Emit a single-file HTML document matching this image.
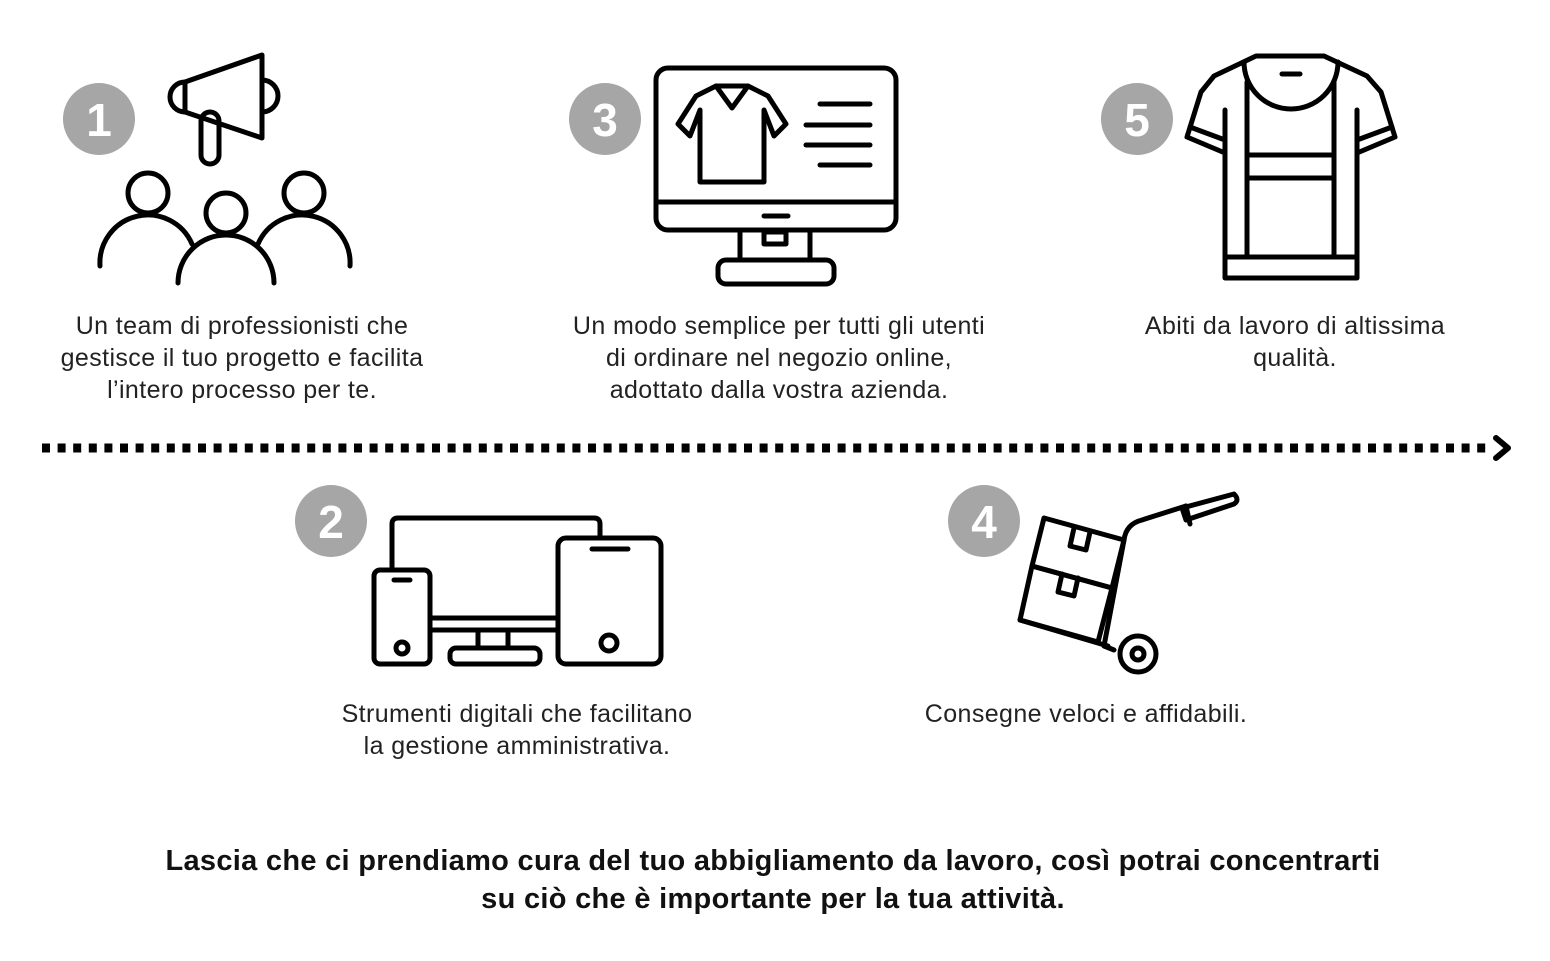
<!DOCTYPE html>
<html><head><meta charset="utf-8"><style>
body{margin:0;background:#fff;width:1550px;height:961px;overflow:hidden;position:relative;font-family:"Liberation Sans",sans-serif}
.t{position:absolute;text-align:center;font-size:25px;letter-spacing:0.4px;line-height:32px;color:#222;white-space:nowrap;transform:translateX(-50%)}
.b{position:absolute;left:773px;transform:translateX(-50%);text-align:center;font-weight:bold;font-size:29px;letter-spacing:0.3px;line-height:38px;color:#111;white-space:nowrap;top:842px}
</style></head><body>
<svg width="1550" height="961" style="position:absolute;left:0;top:0" fill="none" stroke="#000" stroke-width="5" stroke-linecap="round" stroke-linejoin="round">
<g fill="#a6a6a6" stroke="none">
<circle cx="99" cy="119" r="36"/><circle cx="605" cy="119" r="36"/><circle cx="1137" cy="119" r="36"/><circle cx="331" cy="521" r="36"/><circle cx="984" cy="521" r="36"/></g>
<g fill="#fff" stroke="none" font-family="Liberation Sans" font-weight="bold" font-size="46" text-anchor="middle">
<text x="99" y="136">1</text><text x="605" y="136">3</text><text x="1137" y="136">5</text><text x="331" y="538">2</text><text x="984" y="538">4</text></g>
<line x1="42" y1="448" x2="1492" y2="448" stroke-width="9" stroke-dasharray="8 7.6" stroke-linecap="butt"/>
<polyline points="1496,438 1508,448 1496,458" stroke-width="6"/>
<!-- icon1 -->
<path d="M185 82 L262 55 L262 138 L185 112 Z"/><path d="M185 82 a15 15 0 0 0 0 30"/><path d="M262 80 a16 16 0 0 1 0 32"/>
<rect x="201" y="112" width="18" height="52" rx="9"/>
<circle cx="148" cy="193" r="20"/><circle cx="226" cy="213" r="20"/><circle cx="304" cy="193" r="20"/>
<path d="M100 266 a48 48 0 0 1 92 -22"/><path d="M350 266 a48 48 0 0 0 -92 -22"/><path d="M178 283 a48 48 0 0 1 96 0"/>
<!-- icon3 -->
<rect x="656" y="68" width="240" height="162" rx="12"/><line x1="656" y1="202" x2="896" y2="202"/><line x1="764" y1="216" x2="788" y2="216"/>
<rect x="740" y="230" width="70" height="30"/><rect x="764" y="232" width="22" height="12"/><rect x="718" y="260" width="116" height="24" rx="8"/>
<path d="M700 110 L700 182 L764 182 L764 110 L774 136 L786 124 L768 96 L748 86 L716 86 L696 96 L678 124 L690 136 Z"/><path d="M716 86 L732 108 L748 86"/>
<line x1="820" y1="104" x2="870" y2="104"/><line x1="806" y1="125" x2="870" y2="125"/><line x1="806" y1="145" x2="870" y2="145"/><line x1="820" y1="165" x2="870" y2="165"/>
<!-- icon5 -->
<path d="M1256 56 L1324 56 L1367 76 L1381 92 L1395 137 L1357 153 L1357 278 L1225 278 L1225 153 L1187 137 L1201 92 L1214 76 Z"/>
<path d="M1244 62 a47 47 0 0 0 94 0"/><line x1="1282" y1="74" x2="1300" y2="74"/>
<line x1="1247" y1="82" x2="1247" y2="257"/><line x1="1334" y1="82" x2="1334" y2="257"/>
<line x1="1225" y1="110" x2="1225" y2="153"/><line x1="1357" y1="110" x2="1357" y2="153"/>
<line x1="1247" y1="155" x2="1334" y2="155"/><line x1="1247" y1="178" x2="1334" y2="178"/><line x1="1225" y1="257" x2="1357" y2="257"/>
<line x1="1190" y1="127" x2="1225" y2="140"/><line x1="1392" y1="127" x2="1357" y2="140"/>
<!-- icon2 -->
<path d="M392 568 L392 524 Q392 518 398 518 L594 518 Q600 518 600 524 L600 538"/><line x1="432" y1="618" x2="558" y2="618"/><line x1="432" y1="630" x2="558" y2="630"/>
<rect x="478" y="630" width="30" height="18"/><rect x="450" y="648" width="90" height="16" rx="6"/>
<rect x="374" y="570" width="56" height="94" rx="6"/><line x1="394" y1="580" x2="410" y2="580"/><circle cx="402" cy="648" r="6"/>
<rect x="558" y="538" width="103" height="126" rx="8"/><line x1="592" y1="549" x2="628" y2="549"/><circle cx="609" cy="643" r="8"/>
<!-- icon4 -->
<path d="M1044 518 L1124 540 L1112 588 L1032 566 Z"/><path d="M1032 566 L1112 588 L1098 642 L1020 620 Z"/>
<path d="M1074 528 L1070 546 L1086 550 L1090 532"/><path d="M1062 574 L1058 592 L1074 596 L1078 578"/>
<path d="M1020 620 L1108 646"/><path d="M1124 540 L1104 646 L1114 650"/><path d="M1124 540 Q1126 524 1142 520 L1186 506"/>
<path d="M1182 508 L1234 494 Q1240 500 1234 504 L1186 520 Z"/><line x1="1186" y1="506" x2="1190" y2="524"/>
<circle cx="1138" cy="654" r="18"/><circle cx="1138" cy="654" r="6"/>
</svg>
<div class="t" style="left:242px;top:310px">Un team di professionisti che<br>gestisce il tuo progetto e facilita<br>l’intero processo per te.</div>
<div class="t" style="left:779px;top:310px">Un modo semplice per tutti gli utenti<br>di ordinare nel negozio online,<br>adottato dalla vostra azienda.</div>
<div class="t" style="left:1295px;top:310px">Abiti da lavoro di altissima<br>qualità.</div>
<div class="t" style="left:517px;top:698px">Strumenti digitali che facilitano<br>la gestione amministrativa.</div>
<div class="t" style="left:1086px;top:698px">Consegne veloci e affidabili.</div>
<div class="b">Lascia che ci prendiamo cura del tuo abbigliamento da lavoro, così potrai concentrarti<br>su ciò che è importante per la tua attività.</div>
</body></html>
